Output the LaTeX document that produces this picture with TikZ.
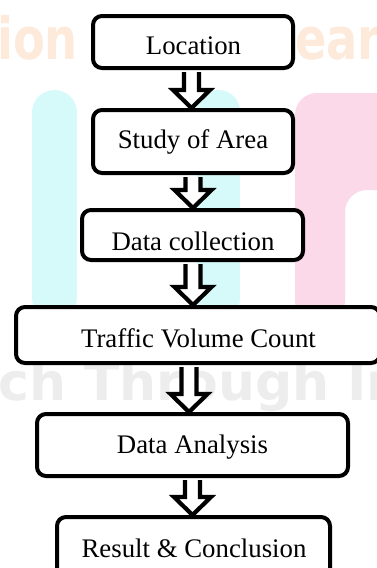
\documentclass[tikz,border=0pt]{standalone}
\usepackage{fontspec}
\setmainfont{Liberation Serif}
\newfontfamily\wmfont{DejaVu Sans}
\newfontfamily\wmcondfont{DejaVu Sans}[FakeStretch=0.8]
\usetikzlibrary{calc}
\definecolor{wmcyan}{RGB}{214,250,250}
\definecolor{wmpink}{RGB}{252,217,233}
\definecolor{wmorange}{RGB}{254,234,218}
\definecolor{wmgray}{RGB}{237,237,237}
\tikzset{
  flowbox/.style={rectangle, draw=black, line width=4pt, rounded corners=9pt, fill=white, inner sep=0pt},
  flowtext/.style={anchor=base, inner sep=0pt, font=\fontsize{26.8}{30}\selectfont},
  hollowarrow/.style={draw=black, fill=white, line width=4.2pt, line join=miter},
  wmtext/.style={inner sep=0pt, text=#1},
}
\newcommand{\flowarrow}[3]{%
  \draw[hollowarrow] let \p1=(#1.south), \p2=(#2.north) in
    (#3pt-7.5pt,\y1-2pt) -- (#3pt-7.5pt,\y2+18pt) -- (#3pt-18.5pt,\y2+18pt) --
    (#3pt,\y2) -- (#3pt+18.5pt,\y2+18pt) -- (#3pt+7.5pt,\y2+18pt) -- (#3pt+7.5pt,\y1-2pt);
}
\begin{document}
\begin{tikzpicture}[x=1pt,y=-1pt]
\useasboundingbox (0,0) rectangle (376,568);
\fill[white] (0,0) rectangle (376,568);
% watermark
\draw[wmcyan, line width=45pt, line cap=round] (54.5,112.5) -- (54.5,297.5);
\draw[wmcyan, line width=43pt, line cap=round] (218.5,111.5) -- (218.5,298.5);
\fill[wmpink, rounded corners=22pt] (295,93) -- (420,93) -- (420,190) -- (345,190) -- (345,323) -- (295,323) -- cycle;
\node[wmtext=wmorange, anchor=base west, font=\wmcondfont\bfseries\fontsize{58}{60}\selectfont] (wm1) at (-3,59) {ion};
\node[wmtext=wmorange, anchor=base west, font=\wmcondfont\bfseries\fontsize{58}{60}\selectfont] (wm2) at (295,59) {earch};
\node[wmtext=wmgray, anchor=base west, font=\wmfont\bfseries\fontsize{52}{54}\selectfont] (wm3) at (-204,400) {Research Through Innovation};
% boxes
\node[flowbox, minimum width=200pt, minimum height=52pt] (b1) at (193,42) {};
\node[flowbox, minimum width=200pt, minimum height=63pt] (b2) at (193,141.5) {};
\node[flowbox, minimum width=221pt, minimum height=50pt] (b3) at (192.5,235) {};
\node[flowbox, minimum width=364pt, minimum height=56pt] (b4) at (198,335) {};
\node[flowbox, minimum width=311pt, minimum height=62pt] (b5) at (192.5,445) {};
\node[flowbox, minimum width=273pt, minimum height=68pt] (b6) at (193.5,551) {};
% texts
\node[flowtext] (t1) at (193.5,54) {Location};
\node[flowtext] (t2) at (193,148) {Study of Area};
\node[flowtext] (t3) at (193,250) {Data collection};
\node[flowtext] (t4) at (198.5,347) {Traffic Volume Count};
\node[flowtext] (t5) at (192.5,453) {Data Analysis};
\node[flowtext] (t6) at (194,557) {Result \& Conclusion};
% arrows
\flowarrow{b1}{b2}{191.5}
\flowarrow{b2}{b3}{193}
\flowarrow{b3}{b4}{193}
\flowarrow{b4}{b5}{189}
\flowarrow{b5}{b6}{192.5}
\end{tikzpicture}
\end{document}
